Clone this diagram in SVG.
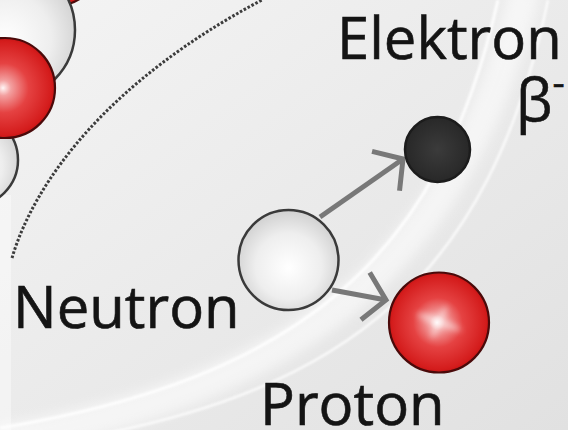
<svg xmlns="http://www.w3.org/2000/svg" width="568" height="430" viewBox="0 0 568 430">
  <style>
    .label { font-family: "Open Sans", "Noto Sans", "DejaVu Sans", sans-serif; font-size: 58px; fill: #141414; stroke: #141414; stroke-width: 0.6; }
    .shell { stroke: #3a3a3a; stroke-width: 2.5; }
    .nucleon-red { stroke: #4a0a0a; stroke-width: 2.2; }
    .arrow { fill: none; stroke: #787878; stroke-width: 5; marker-end: url(#chevron); }
    .band { fill: none; stroke: #ffffff; }
  </style>
  <defs>
    <linearGradient id="bg" x1="0" y1="0" x2="1" y2="1">
      <stop offset="0" stop-color="#f4f4f4"/>
      <stop offset="1" stop-color="#e1e1e1"/>
    </linearGradient>
    <radialGradient id="whiteBall" cx="0.5" cy="0.55" r="0.55" fx="0.5" fy="0.58">
      <stop offset="0" stop-color="#ffffff"/>
      <stop offset="0.6" stop-color="#eeeeee"/>
      <stop offset="1" stop-color="#d0d0d0"/>
    </radialGradient>
    <radialGradient id="redBall" cx="0.5" cy="0.5" r="0.55" fx="0.48" fy="0.5">
      <stop offset="0" stop-color="#fff6f6"/>
      <stop offset="0.14" stop-color="#f3a0a0"/>
      <stop offset="0.45" stop-color="#e54242"/>
      <stop offset="0.85" stop-color="#d41c1c"/>
      <stop offset="1" stop-color="#b00c0c"/>
    </radialGradient>
    <radialGradient id="blackBall" cx="0.5" cy="0.5" r="0.5">
      <stop offset="0" stop-color="#3b3b3b"/>
      <stop offset="1" stop-color="#282828"/>
    </radialGradient>
    <filter id="haze" x="-20%" y="-20%" width="140%" height="140%">
      <feGaussianBlur stdDeviation="6"/>
    </filter>
    <filter id="soft" x="-20%" y="-20%" width="140%" height="140%">
      <feGaussianBlur stdDeviation="0.9"/>
    </filter>
    <filter id="glint" x="-50%" y="-50%" width="200%" height="200%">
      <feGaussianBlur stdDeviation="3"/>
    </filter>
    <marker id="chevron" markerUnits="userSpaceOnUse" viewBox="-30 -30 40 60" refX="0" refY="0"
            markerWidth="40" markerHeight="60" orient="auto" overflow="visible">
      <path d="M-21,-24 L0,0 L-21,24" fill="none" stroke="#787878" stroke-width="5"/>
    </marker>
  </defs>

  <!-- background with sweeping light bands -->
  <rect width="568" height="430" fill="url(#bg)"/>
  <path class="band" d="M0,440 C300,388 460,262 525,-10" stroke-width="30" opacity="0.55" filter="url(#haze)"/>
  <path class="band" d="M0,428 C300,378 440,258 498,0" stroke-width="3" opacity="0.9" filter="url(#soft)"/>
  <path class="band" d="M70,440 C350,392 490,275 548,0" stroke-width="2.5" opacity="0.8" filter="url(#soft)"/>
  <rect x="0" y="195" width="11" height="235" fill="#ffffff" opacity="0.4"/>

  <!-- parent nucleus, partly outside the frame -->
  <g id="nucleus">
    <circle class="nucleon-red" cx="55" cy="-40" r="46" fill="url(#redBall)"/>
    <circle class="shell" cx="5" cy="30" r="70" fill="url(#whiteBall)"/>
    <circle class="shell" cx="-28" cy="160" r="46" fill="url(#whiteBall)"/>
    <circle class="nucleon-red" cx="5" cy="88" r="50" fill="url(#redBall)"/>
    <path d="M12,258 C35,180 110,80 262,0" fill="none" stroke="#3c3c3c" stroke-width="3" stroke-dasharray="2.6 1.8"/>
  </g>

  <!-- decay arrows -->
  <g id="connectors">
    <path class="arrow" d="M320,217 L403,159"/>
    <path class="arrow" d="M332,290 L386,300"/>
  </g>

  <g id="neutron">
    <circle class="shell" cx="288.5" cy="260" r="50" fill="url(#whiteBall)"/>
    <text class="label" x="13" y="328">Neutron</text>
  </g>

  <g id="electron">
    <circle cx="437.5" cy="149.5" r="32.5" fill="url(#blackBall)" stroke="#1c1c1c" stroke-width="2.5"/>
    <text class="label" x="337" y="59">Elektron</text>
    <text class="label" x="516" y="121">β<tspan font-size="38" dy="-25">-</tspan></text>
  </g>

  <g id="proton">
    <circle class="nucleon-red" cx="439" cy="322.5" r="50" fill="url(#redBall)"/>
    <g filter="url(#glint)" fill="#ffffff" opacity="0.55">
      <ellipse cx="439" cy="322" rx="24" ry="3.5" transform="rotate(20 439 322)"/>
      <ellipse cx="439" cy="322" rx="18" ry="3" transform="rotate(-65 439 322)"/>
    </g>
    <text class="label" x="260" y="425">Proton</text>
  </g>
</svg>
